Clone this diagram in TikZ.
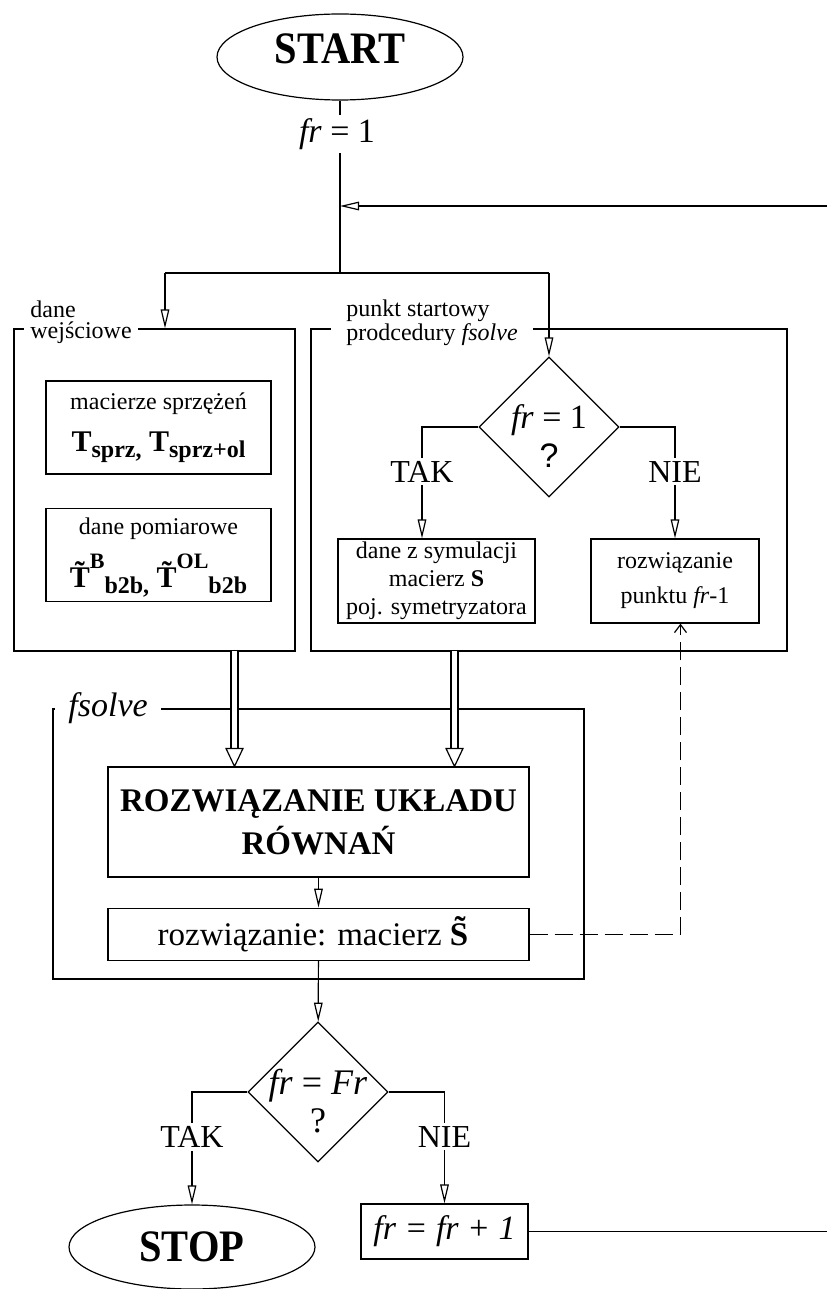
\documentclass[tikz,border=0pt]{standalone}
\usepackage{fontspec}
\setmainfont{Liberation Serif}
\newfontfamily\arialfont{Liberation Sans}
\newfontfamily\termfont{Liberation Serif}[FakeStretch=0.9]
\usetikzlibrary{positioning, shapes.geometric, arrows.meta, calc}

\newcommand{\subb}[1]{\raisebox{-3pt}{\fontsize{12}{14}\selectfont\bfseries #1}}
\newcommand{\supb}[1]{\raisebox{9.5pt}{\fontsize{11}{13}\selectfont\bfseries #1}}

\tikzset{
  wire/.style={line width=0.6pt},
  box/.style={draw, line width=0.6pt, inner sep=0pt},
  frame/.style={draw, line width=0.6pt, inner sep=0pt},
  term/.style={ellipse, draw, line width=0.6pt, inner sep=0pt,
    minimum width=123pt, minimum height=43pt,
    font=\termfont\fontsize{22.5}{26}\selectfont\bfseries},
  decide/.style={diamond, draw, line width=0.6pt, inner sep=0pt,
    minimum width=70pt, minimum height=70pt},
  arr/.style={line width=0.6pt, -{Triangle[open, length=9.5pt, width=4.3pt]}},
  dbl/.style={line width=0.6pt, double, double distance=2.9pt, shorten >=9pt},
  tag/.style={fill=white, inner sep=1.5pt, font=\fontsize{16}{18}\selectfont},
  frametag/.style={fill=white, anchor=west, align=left, inner ysep=0pt,
    font=\fontsize{12}{10.5}\selectfont},
}

\begin{document}
\begin{tikzpicture}[x=0.5pt, y=-0.5pt]
  \useasboundingbox (0,0) rectangle (827,1289);

  % start, fr = 1 and the return line
  \node[term, text depth=8pt] (start) at (340,57) {START};
  \coordinate (j)   at (340,273);
  \coordinate (jl)  at (165,273);
  \coordinate (jr)  at (549,273);
  \coordinate (ret) at (827,206);
  \draw[wire] (start) -- (j);
  \node[tag, font=\fontsize{17}{19}\selectfont] (fr1) at (337,134) {\textit{fr} = 1};
  \draw[arr] (ret) -- (ret -| j);
  \draw[wire] (jl) -- (jr);

  % dane wejsciowe
  \node[frame, minimum width=140.5pt, minimum height=161pt] (din) at (154.5,490) {};
  \node[frametag, inner xsep=3pt] (dinl) at (24,322) {dane\\wejściowe};
  \node[box, minimum width=112.5pt, minimum height=46.5pt, align=center,
        font=\fontsize{12}{14}\selectfont] (sprz) at (158.5,427.5) {
    macierze sprzężeń\\[7pt]
    {\fontsize{15}{18}\selectfont\bfseries T\subb{sprz,} T\subb{sprz+ol}}};
  \node[box, minimum width=112.5pt, minimum height=46.5pt, align=center,
        font=\fontsize{12}{14}\selectfont, below=16.5pt of sprz] (pom) {
    dane pomiarowe\\[15pt]
    \smash{\raisebox{2.5pt}{\fontsize{15}{18}\selectfont\bfseries
      \~T\supb{B}\subb{b2b,} \~T\supb{OL}\subb{b2b}}}};
  \draw[arr] (jl) -- (jl |- din.north);

  % punkt startowy
  \node[frame, minimum width=238pt, minimum height=161pt] (rb) at (549,490) {};
  \node[frametag, inner xsep=7.5pt] (rbl) at (331,323) {punkt startowy\\prodcedury \textit{fsolve}};
  \node[decide] (d1) at (549,427) {};
  \node[align=center, font=\fontsize{17}{19.5}\selectfont] (d1t) at (549,436)
    {\textit{fr} = 1\\{\arialfont ?}};
  \draw[arr] (jr) -- (d1);
  \node[box, minimum width=98.5pt, minimum height=42pt, align=center,
        font=\fontsize{12}{14}\selectfont] (sim) at (436.5,581)
    {dane z symulacji\\macierz \textbf{S}\\poj. symetryzatora};
  \node[box, minimum width=84pt, minimum height=42pt, align=center,
        font=\fontsize{12}{17.5}\selectfont] (prev) at (675,581)
    {rozwiązanie\\punktu \textit{fr}-1};
  \draw[arr] (d1.west) -| node[tag, pos=0.7] (tak1) {TAK} ([xshift=-7.25pt]sim.north);
  \draw[arr] (d1.east) -| node[tag, pos=0.7] (nie1) {NIE} (prev.north);

  % fsolve
  \node[frame, minimum width=265.5pt, minimum height=135pt] (fs) at (318.5,844) {};
  \node[fill=white, anchor=west, inner xsep=6.5pt, inner ysep=2pt,
        font=\fontsize{17}{20}\selectfont\itshape] (fsl) at (55,708) {fsolve};
  \node[box, minimum width=210.5pt, minimum height=55pt, align=center,
        font=\fontsize{16.5}{21.5}\selectfont\bfseries] (roz) at (318.5,822)
    {ROZWIĄZANIE UKŁADU\\RÓWNAŃ};
  \node[box, minimum width=210.5pt, minimum height=26pt,
        font=\fontsize{16.5}{19}\selectfont, below=15pt of roz] (sol)
    {rozwiązanie: macierz \textbf{\~S}};
  \coordinate (inl) at ([xshift=40pt, yshift=0.4pt]din.south);
  \coordinate (inr) at ([xshift=-47.25pt, yshift=0.4pt]rb.south);
  \draw[dbl] (inl) -- (inl |- roz.north);
  \draw[wire, fill=white] (inl |- roz.north) -- ++(-4.25pt,9pt) -- ++(8.5pt,0pt) -- cycle;
  \draw[dbl] (inr) -- (inr |- roz.north);
  \draw[wire, fill=white] (inr |- roz.north) -- ++(-4.25pt,9pt) -- ++(8.5pt,0pt) -- cycle;
  \draw[arr] (roz) -- (sol);
  \draw[wire, dash pattern=on 9pt off 3.5pt, -{Straight Barb[length=4pt, width=6pt]}]
    (sol.east) -| ([xshift=2.75pt]prev.south);

  % fr = Fr ?
  \node[decide] (d2) at (318,1092) {};
  \node[align=center, font=\fontsize{18}{19}\selectfont] (d2t) at (318,1101)
    {\textit{fr} = \textit{Fr}\\?};
  \draw[arr] (sol) -- (d2);
  \node[term, minimum height=42pt] (stop) at (192,1247) {STOP};
  \node[box, minimum width=83.5pt, minimum height=27.5pt,
        font=\fontsize{17}{19}\selectfont\itshape] (inc) at (444.5,1231.5) {fr = fr + 1};
  \draw[arr] (d2.west) -| node[tag, pos=0.7] (tak2) {TAK} (stop.north);
  \draw[arr] (d2.east) -| node[tag, pos=0.7] (nie2) {NIE} (inc.north);
  \coordinate (back) at (827,1233);
  \draw[wire] (inc.east) -- (back |- inc.east);
\end{tikzpicture}
\end{document}
